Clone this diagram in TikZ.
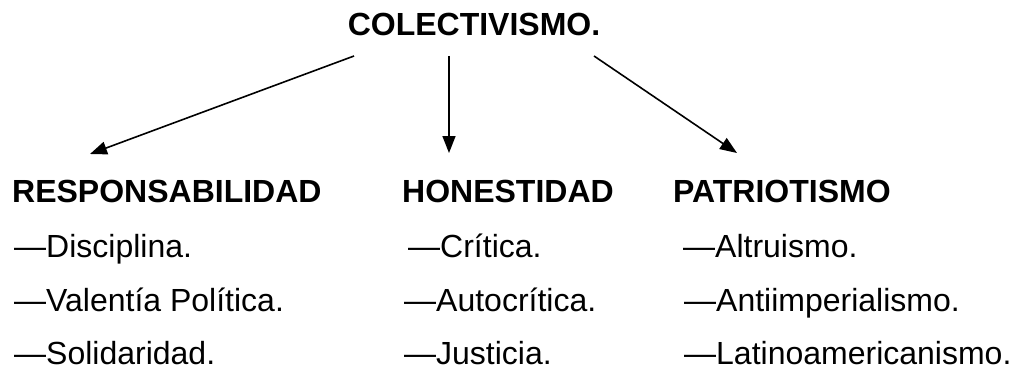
\documentclass[tikz,border=0pt]{standalone}
\usepackage{fontspec}
\setmainfont{Liberation Sans}
\usetikzlibrary{arrows.meta}
\begin{document}
\begin{tikzpicture}[x=1pt,y=-1pt,
  txt/.style={inner sep=0pt,anchor=base west,font=\fontsize{32}{38}\selectfont},
  head/.style={txt,font=\fontsize{32}{38}\selectfont\bfseries},
  arr/.style={line width=1.6pt,-{Triangle[length=17pt,width=13pt]}}]
\useasboundingbox (0,0) rectangle (1013,369);
\node[head,anchor=base] (title) at (474,36) {COLECTIVISMO.};
\node[head] (resp) at (12,202) {RESPONSABILIDAD};
\node[head] (hon) at (402,202) {HONESTIDAD};
\node[head] (pat) at (673,202) {PATRIOTISMO};
\node[txt] (r1) at (14,257) {—Disciplina.};
\node[txt] (r2) at (14,311) {—Valentía Política.};
\node[txt] (r3) at (14,364) {—Solidaridad.};
\node[txt] (h1) at (408,257) {—Crítica.};
\node[txt] (h2) at (404,311) {—Autocrítica.};
\node[txt] (h3) at (404,364) {—Justicia.};
\node[txt] (p1) at (683,257) {—Altruismo.};
\node[txt] (p2) at (684,311) {—Antiimperialismo.};
\node[txt] (p3) at (684,364) {—Latinoamericanismo.};
\coordinate (aLs) at (354,56);
\coordinate (aLe) at (90,154);
\coordinate (aMs) at (449,56);
\coordinate (aMe) at (449,153);
\coordinate (aRs) at (594,56);
\coordinate (aRe) at (737,153);
\draw[arr] (aLs) -- (aLe);
\draw[arr] (aMs) -- (aMe);
\draw[arr] (aRs) -- (aRe);
\end{tikzpicture}
\end{document}
